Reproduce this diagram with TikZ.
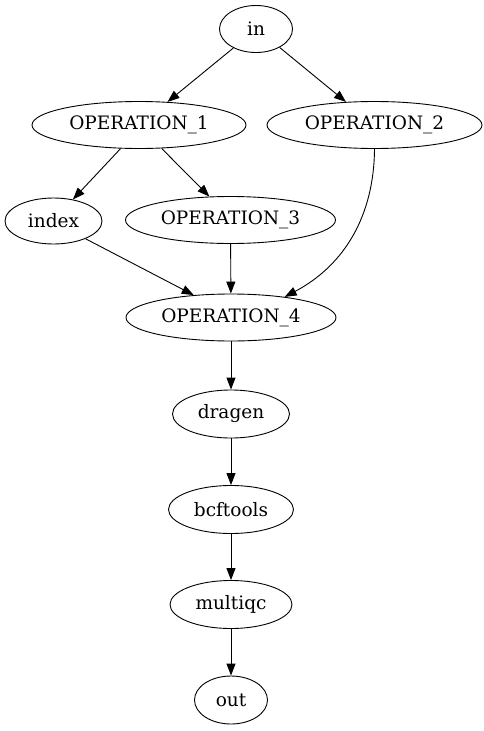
\documentclass[tikz,border=0pt]{standalone}
\usepackage{fontspec}
\setmainfont{DejaVu Serif}
\usetikzlibrary{shapes.geometric,arrows.meta}
\begin{document}
\begin{tikzpicture}[x=1pt,y=-1pt,
  nd/.style={ellipse,draw,line width=0.9pt,inner sep=0pt,minimum height=47pt,font=\fontsize{18.5}{22}\selectfont},
  ed/.style={line width=0.9pt,-{Triangle[length=12pt,width=9pt]}}]
\useasboundingbox (0,0) rectangle (484,731);
\node[nd,minimum width=73pt] (in) at (256,29) {in};
\node[nd,minimum width=214pt] (op1) at (139,125) {OPERATION\_1};
\node[nd,minimum width=215pt] (op2) at (374.5,125) {OPERATION\_2};
\node[nd,minimum width=97pt,minimum height=46pt] (index) at (53.5,221) {index};
\node[nd,minimum width=210pt] (op3) at (230.5,220) {OPERATION\_3};
\node[nd,minimum width=210pt] (op4) at (231,317.5) {OPERATION\_4};
\node[nd,minimum width=117pt,minimum height=48pt] (dragen) at (231,414) {dragen};
\node[nd,minimum width=125pt,minimum height=48pt] (bcf) at (231,509.5) {bcftools};
\node[nd,minimum width=122pt,minimum height=48pt] (mqc) at (231,604.5) {multiqc};
\node[nd,minimum width=73pt,minimum height=48pt] (out) at (231,700) {out};
\draw[ed] (in.-140.7) -- (op1.39.4);
\draw[ed] (in.-38) -- (op2.141);
\draw[ed] (op1.-128) -- (index.48.4);
\draw[ed] (op1.-46) -- (op3.132);
\draw[ed] (index.-29) -- (op4.149.4);
\draw[ed] (op3) -- (op4);
\draw[ed] (op2.south) .. controls (374,215) and (345,265) .. (op4.21.5);
\draw[ed] (op4) -- (dragen);
\draw[ed] (dragen) -- (bcf);
\draw[ed] (bcf) -- (mqc);
\draw[ed] (mqc) -- (out);
\end{tikzpicture}
\end{document}
